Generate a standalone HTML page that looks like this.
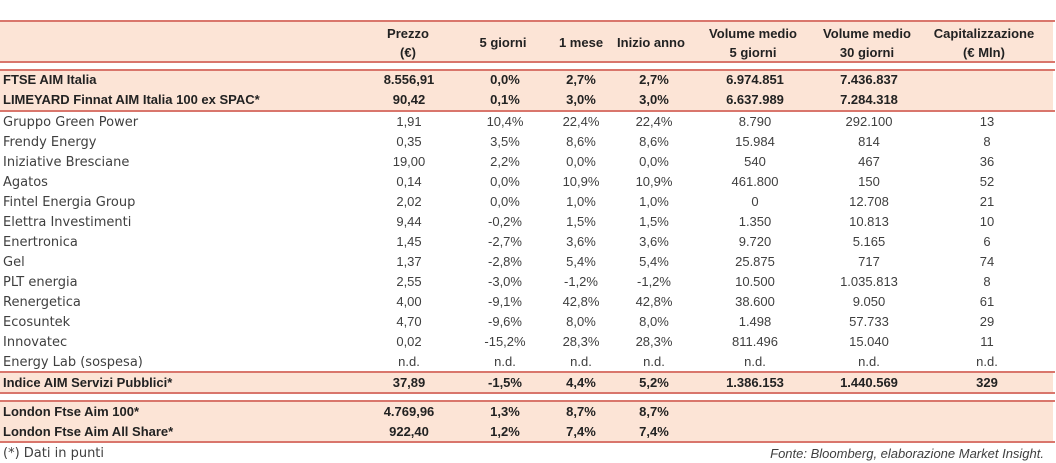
<!DOCTYPE html>
<html><head><meta charset="utf-8"><style>
html,body{margin:0;padding:0;background:#fff;}
#w{position:relative;width:1056px;height:463px;overflow:hidden;background:#fff;}
.ln{position:absolute;left:0;width:1055px;height:2px;background:#d9766c;}
.pk{position:absolute;left:0;width:1053px;background:#fce4d6;}
.r{position:absolute;left:0;width:1056px;height:20px;line-height:20px;color:#3f3f3f;white-space:nowrap;}
.r .n{position:absolute;left:3px;top:1px;font-family:"DejaVu Sans",sans-serif;font-size:13px;}
.r .c{position:absolute;width:140px;margin-left:-70px;text-align:center;font-family:"Liberation Sans",sans-serif;font-size:13px;}
.b{color:#222;}
.b .n{top:0;}
.b .n,.b .c{font-family:"Liberation Sans",sans-serif;font-weight:bold;font-size:13px;}
.c1{left:409px}.c2{left:505px}.c3{left:581px}.c4{left:654px}.c5{left:755px}.c6{left:869px}.c7{left:987px}
.h{position:absolute;font-family:"Liberation Sans",sans-serif;font-weight:bold;font-size:13px;color:#222;text-align:center;width:160px;margin-left:-80px;line-height:19px;}
.foot{position:absolute;top:444px;height:20px;line-height:20px;font-size:13px;color:#3f3f3f;white-space:nowrap;}
</style></head><body><div id="w">
<div class="pk" style="top:22px;height:39px"></div>
<div class="pk" style="top:71px;height:39px"></div>
<div class="pk" style="top:373px;height:19px"></div>
<div class="pk" style="top:402px;height:39px"></div>
<div class="ln" style="top:20px"></div>
<div class="ln" style="top:61px"></div>
<div class="ln" style="top:69px"></div>
<div class="ln" style="top:110px"></div>
<div class="ln" style="top:371px"></div>
<div class="ln" style="top:392px"></div>
<div class="ln" style="top:400px"></div>
<div class="ln" style="top:441px"></div>

<div class="h" style="left:408px;top:24px">Prezzo<br>(€)</div>
<div class="h" style="left:503px;top:33px">5 giorni</div>
<div class="h" style="left:581px;top:33px">1 mese</div>
<div class="h" style="left:651px;top:33px">Inizio anno</div>
<div class="h" style="left:753px;top:24px">Volume medio<br>5 giorni</div>
<div class="h" style="left:867px;top:24px">Volume medio<br>30 giorni</div>
<div class="h" style="left:984px;top:24px">Capitalizzazione<br>(€ Mln)</div>

<div class="r b" style="top:70px"><span class="n">FTSE AIM Italia</span><span class="c c1">8.556,91</span><span class="c c2">0,0%</span><span class="c c3">2,7%</span><span class="c c4">2,7%</span><span class="c c5">6.974.851</span><span class="c c6">7.436.837</span></div>
<div class="r b" style="top:90px"><span class="n">LIMEYARD Finnat AIM Italia 100 ex SPAC*</span><span class="c c1">90,42</span><span class="c c2">0,1%</span><span class="c c3">3,0%</span><span class="c c4">3,0%</span><span class="c c5">6.637.989</span><span class="c c6">7.284.318</span></div>

<div class="r" style="top:112px"><span class="n">Gruppo Green Power</span><span class="c c1">1,91</span><span class="c c2">10,4%</span><span class="c c3">22,4%</span><span class="c c4">22,4%</span><span class="c c5">8.790</span><span class="c c6">292.100</span><span class="c c7">13</span></div>
<div class="r" style="top:132px"><span class="n">Frendy Energy</span><span class="c c1">0,35</span><span class="c c2">3,5%</span><span class="c c3">8,6%</span><span class="c c4">8,6%</span><span class="c c5">15.984</span><span class="c c6">814</span><span class="c c7">8</span></div>
<div class="r" style="top:152px"><span class="n">Iniziative Bresciane</span><span class="c c1">19,00</span><span class="c c2">2,2%</span><span class="c c3">0,0%</span><span class="c c4">0,0%</span><span class="c c5">540</span><span class="c c6">467</span><span class="c c7">36</span></div>
<div class="r" style="top:172px"><span class="n">Agatos</span><span class="c c1">0,14</span><span class="c c2">0,0%</span><span class="c c3">10,9%</span><span class="c c4">10,9%</span><span class="c c5">461.800</span><span class="c c6">150</span><span class="c c7">52</span></div>
<div class="r" style="top:192px"><span class="n">Fintel Energia Group</span><span class="c c1">2,02</span><span class="c c2">0,0%</span><span class="c c3">1,0%</span><span class="c c4">1,0%</span><span class="c c5">0</span><span class="c c6">12.708</span><span class="c c7">21</span></div>
<div class="r" style="top:212px"><span class="n">Elettra Investimenti</span><span class="c c1">9,44</span><span class="c c2">-0,2%</span><span class="c c3">1,5%</span><span class="c c4">1,5%</span><span class="c c5">1.350</span><span class="c c6">10.813</span><span class="c c7">10</span></div>
<div class="r" style="top:232px"><span class="n">Enertronica</span><span class="c c1">1,45</span><span class="c c2">-2,7%</span><span class="c c3">3,6%</span><span class="c c4">3,6%</span><span class="c c5">9.720</span><span class="c c6">5.165</span><span class="c c7">6</span></div>
<div class="r" style="top:252px"><span class="n">Gel</span><span class="c c1">1,37</span><span class="c c2">-2,8%</span><span class="c c3">5,4%</span><span class="c c4">5,4%</span><span class="c c5">25.875</span><span class="c c6">717</span><span class="c c7">74</span></div>
<div class="r" style="top:272px"><span class="n">PLT energia</span><span class="c c1">2,55</span><span class="c c2">-3,0%</span><span class="c c3">-1,2%</span><span class="c c4">-1,2%</span><span class="c c5">10.500</span><span class="c c6">1.035.813</span><span class="c c7">8</span></div>
<div class="r" style="top:292px"><span class="n">Renergetica</span><span class="c c1">4,00</span><span class="c c2">-9,1%</span><span class="c c3">42,8%</span><span class="c c4">42,8%</span><span class="c c5">38.600</span><span class="c c6">9.050</span><span class="c c7">61</span></div>
<div class="r" style="top:312px"><span class="n">Ecosuntek</span><span class="c c1">4,70</span><span class="c c2">-9,6%</span><span class="c c3">8,0%</span><span class="c c4">8,0%</span><span class="c c5">1.498</span><span class="c c6">57.733</span><span class="c c7">29</span></div>
<div class="r" style="top:332px"><span class="n">Innovatec</span><span class="c c1">0,02</span><span class="c c2">-15,2%</span><span class="c c3">28,3%</span><span class="c c4">28,3%</span><span class="c c5">811.496</span><span class="c c6">15.040</span><span class="c c7">11</span></div>
<div class="r" style="top:352px"><span class="n">Energy Lab (sospesa)</span><span class="c c1">n.d.</span><span class="c c2">n.d.</span><span class="c c3">n.d.</span><span class="c c4">n.d.</span><span class="c c5">n.d.</span><span class="c c6">n.d.</span><span class="c c7">n.d.</span></div>

<div class="r b" style="top:373px"><span class="n">Indice AIM Servizi Pubblici*</span><span class="c c1">37,89</span><span class="c c2">-1,5%</span><span class="c c3">4,4%</span><span class="c c4">5,2%</span><span class="c c5">1.386.153</span><span class="c c6">1.440.569</span><span class="c c7">329</span></div>
<div class="r b" style="top:402px"><span class="n">London Ftse Aim 100*</span><span class="c c1">4.769,96</span><span class="c c2">1,3%</span><span class="c c3">8,7%</span><span class="c c4">8,7%</span></div>
<div class="r b" style="top:422px"><span class="n">London Ftse Aim All Share*</span><span class="c c1">922,40</span><span class="c c2">1,2%</span><span class="c c3">7,4%</span><span class="c c4">7,4%</span></div>

<div class="foot" style="left:3px;font-family:'DejaVu Sans',sans-serif;">(*) Dati in punti</div>
<div class="foot" style="right:12px;font-family:'Liberation Sans',sans-serif;font-style:italic;">Fonte: Bloomberg, elaborazione Market Insight.</div>
</div></body></html>
